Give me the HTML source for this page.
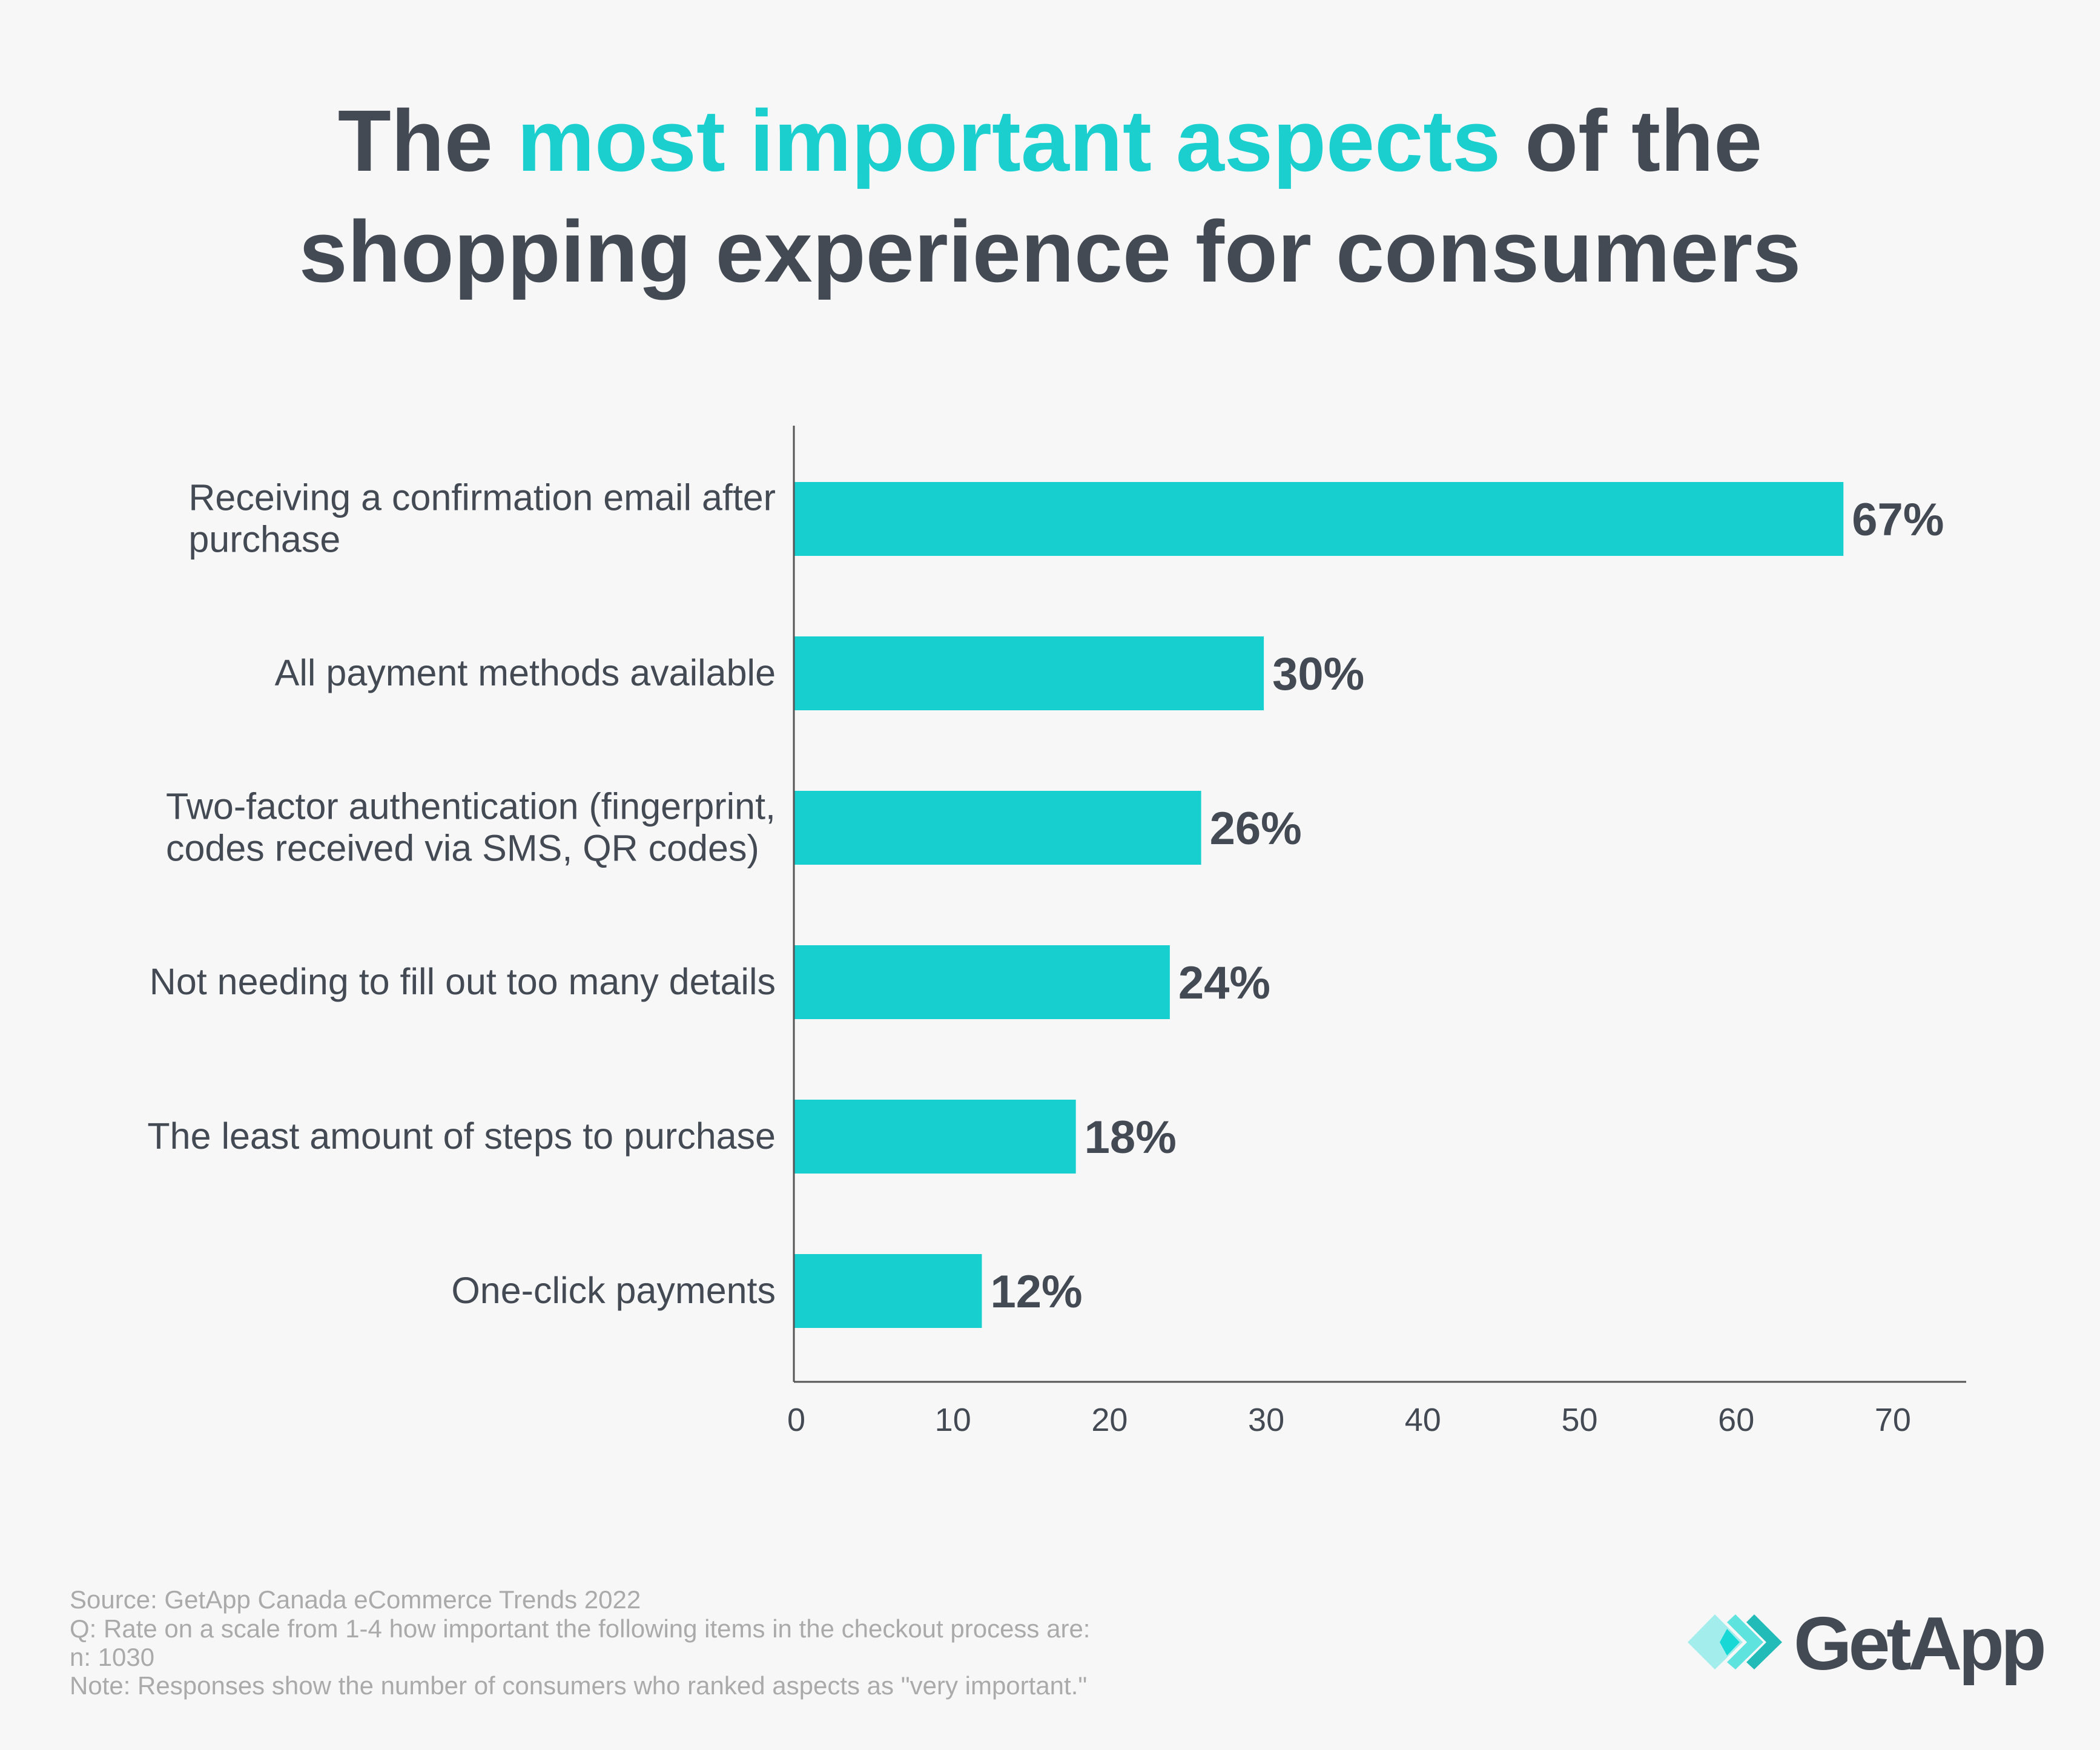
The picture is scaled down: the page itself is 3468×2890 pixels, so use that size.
<!DOCTYPE html>
<html><head><meta charset="utf-8"><style>
html,body{margin:0;padding:0;background:#f7f7f7;}
svg{display:block;font-family:"Liberation Sans",sans-serif;}
</style></head><body>
<svg id="chart" width="3468" height="2890" viewBox="0 0 3468 2890" xmlns="http://www.w3.org/2000/svg">
<rect width="3468" height="2890" fill="#f7f7f7"/>
<g font-weight="bold" font-size="144" fill="#434a54" text-anchor="middle">
<text x="1734" y="282">The <tspan fill="#1ccfcf">most important aspects</tspan> of the</text>
<text x="1734" y="465">shopping experience for consumers</text>
</g>
<g id="plot"></g>
<g font-size="42" fill="#aaaaaa">
<text x="115" y="2656">Source: GetApp Canada eCommerce Trends 2022</text>
<text x="115" y="2704">Q: Rate on a scale from 1-4 how important the following items in the checkout process are:</text>
<text x="115" y="2751">n: 1030</text>
<text x="115" y="2798">Note: Responses show the number of consumers who ranked aspects as "very important."</text>
</g>
<g>
<polygon points="2832,2666 2878,2712 2832,2757 2787,2712" fill="#a3eeed"/>
<polygon points="2866,2666 2912,2712 2866,2757 2852,2745 2885,2712 2852,2679" fill="#5ee3df"/>
<polygon points="2897,2666 2943,2712 2897,2757 2884,2745 2917,2712 2884,2679" fill="#22bbb7"/>
<polygon points="2852,2690 2873,2712 2852,2734 2840,2712" fill="#18d8d6"/>
<text x="2962" y="2757" font-size="124" font-weight="bold" fill="#434a54" letter-spacing="-6">GetApp</text>
</g>
</svg>
<script>
const categories = [["Receiving a confirmation email after","purchase"],["All payment methods available"],["Two-factor authentication (fingerprint,","codes received via SMS, QR codes)"],["Not needing to fill out too many details"],["The least amount of steps to purchase"],["One-click payments"]];
const values = [67, 30, 26, 24, 18, 12];
const valueLabels = ["67%","30%","26%","24%","18%","12%"];
const ticks = [0,10,20,30,40,50,60,70];

const NS="http://www.w3.org/2000/svg";
const g=document.getElementById('plot');
const x0=1311, unit=25.87, top0=796, step=255, bh=122;
const xs=v=>x0+v*unit;
const ys=i=>top0+i*step;
function mk(tag,attrs,parent){const e=document.createElementNS(NS,tag);for(const k in attrs)e.setAttribute(k,attrs[k]);(parent||g).appendChild(e);return e;}
values.forEach((v,i)=>{
  const r=mk('rect',{x:xs(0),y:ys(i),width:xs(v)-xs(0),height:bh,fill:'#17cfcf'});
  
  
  const t=mk('text',{x:xs(v)+14,y:ys(i)+bh/2+27,'font-size':76,'font-weight':'bold',fill:'#434a54'});
  t.textContent=valueLabels[i];
  
  
  const lines=categories[i];
  const lh=69;
  const c=mk('text',{'font-size':61,fill:'#434a54','text-anchor':'start'});
  
  
  const spans=lines.map((ln,j)=>{
    const ts=mk('tspan',{x:0,y:ys(i)+bh/2+20+(j-(lines.length-1)/2)*lh},c);
    ts.textContent=ln;
    return ts;
  });
  let w=0;
  spans.forEach(s=>{w=Math.max(w,s.getComputedTextLength());});
  spans.forEach(s=>s.setAttribute('x',1281-w));
});
const ya=mk('line',{x1:x0,y1:703,x2:x0,y2:2282,stroke:'#555',"stroke-width":3});


const xa=mk('line',{x1:x0,y1:2282,x2:3247,y2:2282,stroke:'#555',"stroke-width":3});


ticks.forEach(t=>{
  const e=mk('text',{x:xs(t)+4,y:2363,'font-size':54,fill:'#434a54','text-anchor':'middle'});
  e.textContent=t;
  
  
});
</script>
</body></html>
